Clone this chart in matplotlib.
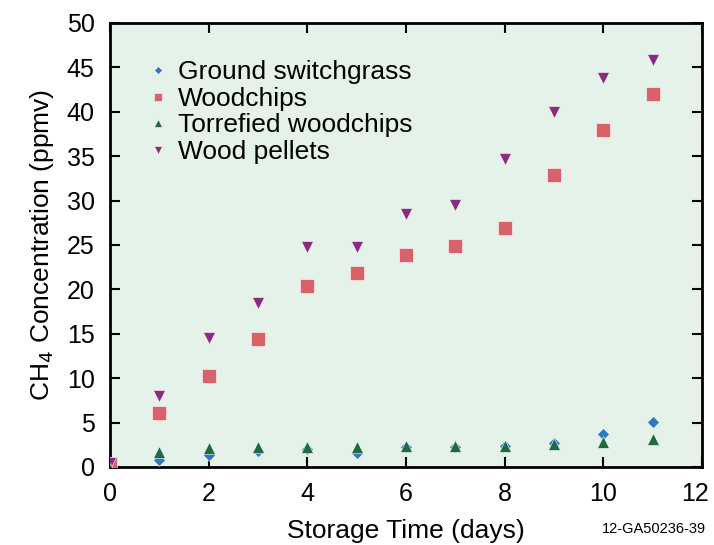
import matplotlib
matplotlib.use("Agg")
import matplotlib.pyplot as plt
import matplotlib.transforms as mtransforms

plt.rcParams['font.family'] = ['Liberation Sans', 'DejaVu Sans']

days = [0, 1, 2, 3, 4, 5, 6, 7, 8, 9, 10, 11]
switchgrass = [0.2, 0.8, 1.4, 1.8, 2.0, 1.6, 2.2, 2.3, 2.4, 2.7, 3.7, 5.1]
woodchips = [0.3, 6.1, 10.2, 14.4, 20.4, 21.9, 23.9, 24.9, 26.9, 32.9, 38.0, 42.0]
torrefied = [-0.2, 1.7, 2.1, 2.2, 2.3, 2.3, 2.4, 2.4, 2.4, 2.6, 2.8, 3.1]
pellets = [0.5, 8.0, 14.5, 18.5, 24.8, 24.8, 28.5, 29.5, 34.7, 40.0, 43.8, 45.8]

fig = plt.figure(figsize=(7.14, 5.45), dpi=100)
ax = fig.add_axes([110/714, 1 - 467/545, 592/714, 444/545])
ax.set_facecolor('#e4f2ea')

ax.plot(days, switchgrass, 'D', color='#2f78c4', ms=6.5, mec='white', mew=0.4, label='Ground switchgrass', zorder=3)
ax.plot(days, woodchips, 's', color='#d9626a', ms=9.5, mec='white', mew=0.4, label='Woodchips', zorder=3)
ax.plot(days, torrefied, '^', color='#1e6b40', ms=8.5, mec='white', mew=0.4, label='Torrefied woodchips', zorder=4)
ax.plot(days, pellets, 'v', color='#8a2a80', ms=8.5, mec='white', mew=0.4, label='Wood pellets', zorder=3)

ax.set_xlim(0, 12)
ax.set_ylim(0, 50)
ax.set_xticks(range(0, 13, 2))
ax.set_yticks(range(0, 51, 5))
ax.tick_params(direction='in', top=True, right=True, length=7, width=1.5,
               labelsize=18, pad=11)
for s in ax.spines.values():
    s.set_linewidth(2)

# last x label sits a bit left so it stays inside the figure
lbl = ax.get_xticklabels()[-1]
lbl.set_transform(lbl.get_transform() + mtransforms.ScaledTranslation(-7/100, 0, fig.dpi_scale_trans))

ax.set_xlabel('Storage Time (days)', fontsize=19, labelpad=9)
ax.set_ylabel('CH$_4$ Concentration (ppmv)', fontsize=19, labelpad=8)

ax.legend(loc='upper left', bbox_to_anchor=(0.05, 0.94), frameon=False,
          fontsize=19, markerscale=0.6, handlelength=0.6, handletextpad=0.45,
          labelspacing=0.1, borderaxespad=0)

fig.text(706/714, 1 - 529/545, '12-GA50236-39', fontsize=10.5, ha='right', va='center')

fig.savefig('out.png', dpi=100)
